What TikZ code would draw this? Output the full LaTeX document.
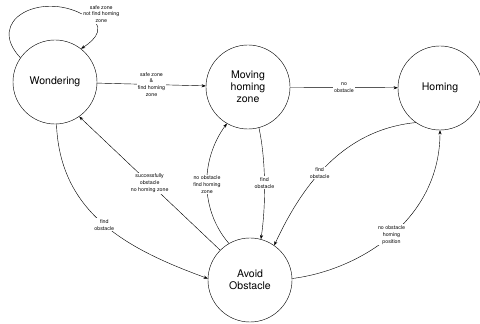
\documentclass[tikz,border=0pt]{standalone}
\usepackage{fontspec}
\setmainfont{TeX Gyre Heros}
\usetikzlibrary{arrows.meta,positioning}
\tikzset{
  snode/.style={draw, circle, thin, minimum size=2.8cm, inner sep=0pt,
                font=\fontsize{10}{11.5}\selectfont, align=center},
  elab/.style={fill=white, inner sep=1pt, align=center,
               font=\fontsize{5}{6.5}\selectfont},
  trans/.style={thin, -{Stealth[length=4pt,width=3pt]}},
}

\begin{document}
\begin{tikzpicture}[x=0.03333cm, y=-0.03333cm]
\useasboundingbox (0,0) rectangle (480,324);

% States
\node[snode] (wander) at (55,82) {Wondering};
\node[snode] (moving) at (248,87) {Moving\\homing\\zone};
\node[snode] (homing) at (440,88) {Homing};
\node[snode] (avoid) at (250,280) {Avoid\\Obstacle};

% Top row transitions
\draw[trans] (wander.145) .. controls (-15,20) and (40,-8) .. (82,14)
  node[elab, pos=1, anchor=west] (selflab) {safe zone\\not find homing\\zone}
  .. controls (110,25) and (95,40) .. (wander.52);
\draw[trans] (wander) -- node[elab] {safe zone\\\&\\find homing\\zone} (moving);
\draw[trans] (moving) -- node[elab] {no\\obstacle} (homing);

% Into avoid obstacle
\draw[trans] (wander.-88) .. controls (60,215) and (130,250) ..
  node[elab] {find\\obstacle} (avoid.178);
\draw[trans] (moving.-75) .. controls (266,160) and (266,205) ..
  node[elab] {find\\obstacle} (avoid.75);
\draw[trans] (homing.-125) .. controls (340,130) and (300,190) ..
  node[elab, pos=0.55] {find\\obstacle} (avoid.55);

% Out of avoid obstacle
\draw[trans] (avoid.135) -- node[elab] {successfully\\obstacle\\no homing zone} (wander.-55);
\draw[trans] (avoid.120) .. controls (200,210) and (200,160) ..
  node[elab] {no obstacle\\find homing\\zone} (moving.-120);
\draw[trans] (avoid.2) .. controls (360,270) and (440,220) ..
  node[elab] {no obstacle\\homing\\position} (homing.-90);

\end{tikzpicture}
\end{document}
